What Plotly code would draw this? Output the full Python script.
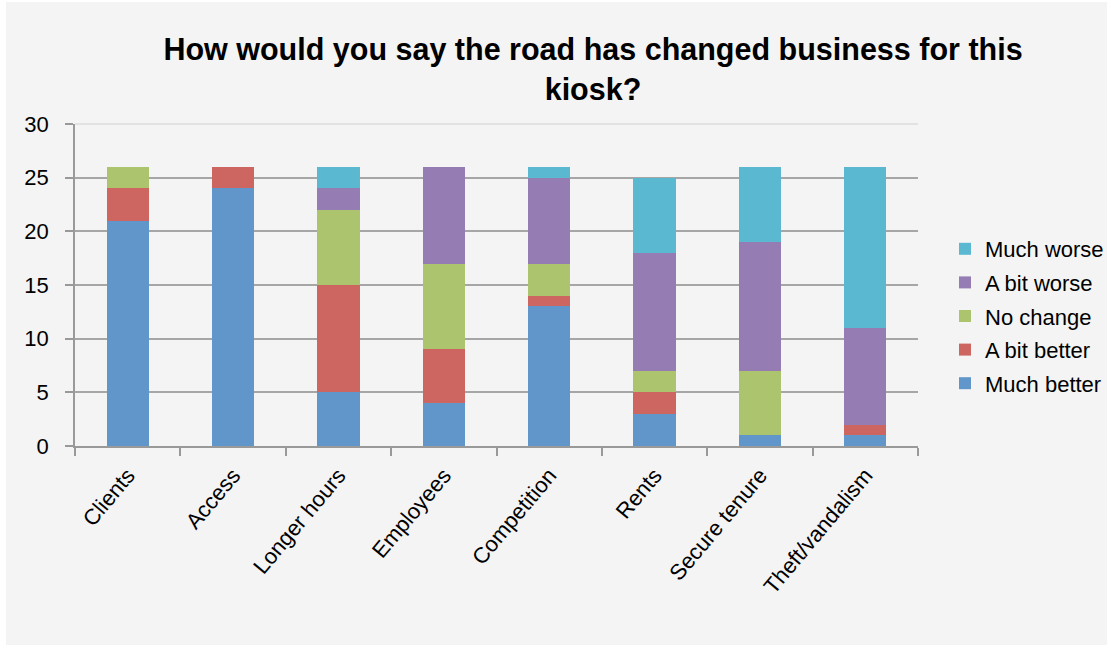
import plotly.graph_objects as go

categories = ["Clients", "Access", "Longer hours", "Employees", "Competition",
              "Rents", "Secure tenure", "Theft/vandalism"]

much_better = [21, 24, 5, 4, 13, 3, 1, 1]
a_bit_better = [3, 2, 10, 5, 1, 2, 0, 1]
no_change = [2, 0, 7, 8, 3, 2, 6, 0]
a_bit_worse = [0, 0, 2, 9, 8, 11, 12, 9]
much_worse = [0, 0, 2, 0, 1, 7, 7, 15]

series = [
    ("Much better", much_better, "#6096c9"),
    ("A bit better", a_bit_better, "#cd6660"),
    ("No change", no_change, "#abc46d"),
    ("A bit worse", a_bit_worse, "#957cb2"),
    ("Much worse", much_worse, "#5bb8d1"),
]

W, H = 1107, 648
L, R, T, B = 75, 189, 124, 202
pw, ph = W - L - R, H - T - B

fig = go.Figure()
for i, (name, vals, color) in enumerate(series):
    fig.add_trace(go.Bar(
        x=categories, y=vals, name=name, legendgroup=name,
        legendrank=1000 - i,
        marker=dict(color=color, line=dict(width=0)),
        width=0.4,
    ))

font = "Liberation Sans, Arial, sans-serif"

# light grey panel behind the whole chart
fig.add_shape(
    type="rect", xref="paper", yref="paper", layer="below",
    x0=(6 - L) / pw, x1=(W - L) / pw,
    y0=(H - B - 645) / ph, y1=(H - B - 2) / ph,
    fillcolor="#f4f4f4", line=dict(width=0),
)
# lighter top border line at the axis maximum
fig.add_shape(
    type="line", xref="paper", yref="paper", layer="above",
    x0=0, x1=1, y0=1, y1=1,
    line=dict(color="#dcdcdc", width=1.5),
)

fig.update_layout(
    width=W, height=H,
    margin=dict(l=L, r=R, t=T, b=B, autoexpand=False),
    barmode="stack",
    paper_bgcolor="white",
    plot_bgcolor="#f4f4f4",
    font=dict(family=font, color="black", size=22),
    title=dict(
        text="<b>How would you say the road has changed business for this<br>kiosk?</b>",
        x=593 / W, xanchor="center", xref="container",
        y=1 - 60 / H, yanchor="middle", yref="container",
        font=dict(family=font, size=30.5, color="black"),
    ),
    legend=dict(
        x=(945 - L) / pw, xanchor="left",
        y=(H - B - 316) / ph, yanchor="middle",
        traceorder="grouped",
        font=dict(family=font, size=22, color="black"),
        bgcolor="rgba(0,0,0,0)",
        itemwidth=30,
        tracegroupgap=2,
    ),
    bargap=0.6,
)

fig.update_xaxes(
    type="category",
    showline=True, linecolor="#999999", linewidth=1.5,
    ticks="outside", tickson="boundaries", ticklen=8, tickcolor="#999999", tickwidth=1.5,
    tickangle=-50, ticklabelstandoff=6,
    showgrid=False,
    tickfont=dict(family=font, size=22, color="black"),
)
fig.update_yaxes(
    range=[0, 30], tickvals=[0, 5, 10, 15, 20, 25, 30],
    showline=True, linecolor="#999999", linewidth=1.5,
    ticks="outside", ticklen=8, tickcolor="#999999", tickwidth=1.5,
    ticklabelstandoff=12,
    showgrid=True, gridcolor="#a6a6a6", gridwidth=1.5,
    zeroline=False,
    tickfont=dict(family=font, size=22, color="black"),
)

fig.write_html("out.html")
